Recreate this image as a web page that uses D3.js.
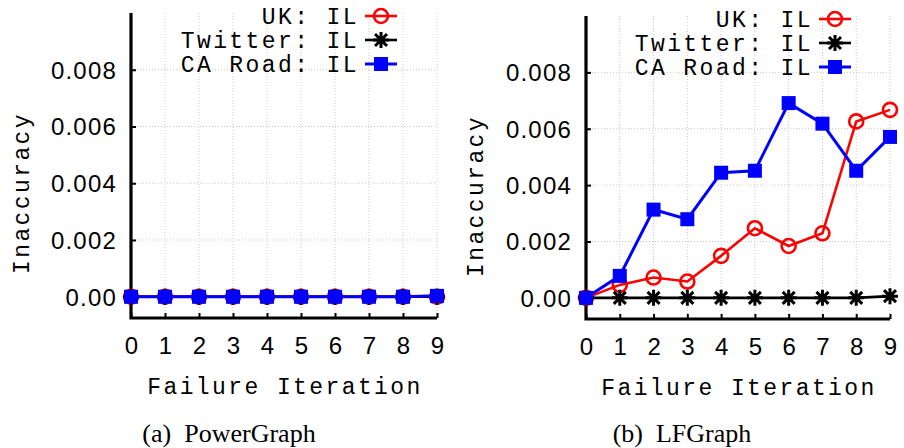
<!DOCTYPE html>
<html>
<head>
<meta charset="utf-8">
<script src="https://cdn.jsdelivr.net/npm/d3@7"></script>
<style>
  html, body { margin: 0; padding: 0; background: #fff; }
  svg { display: block; }
</style>
</head>
<body>
<svg id="chart" width="904" height="448"></svg>
<script>
// Failure iterations on the x axis
const iterations = [0, 1, 2, 3, 4, 5, 6, 7, 8, 9];

// Inaccuracy per iteration, PowerGraph
const pgUK      = [0, 0, 0, 0, 0, 0, 0, 0, 0, 0];
const pgTwitter = [0, 0, 0, 0, 0, 0, 0, 0, 0, 0];
const pgCARoad  = [0, 0, 0, 0, 0, 0, 0, 0, 0, 0.00003];

// Inaccuracy per iteration, LFGraph
const lfUK      = [0, 0.00046, 0.00072, 0.00058, 0.00149, 0.00247, 0.00184, 0.00229, 0.00626, 0.00667];
const lfTwitter = [0, 0, 0, 0, 0, 0, 0, 0, 0, 0.00006];
const lfCARoad  = [0, 0.00078, 0.00313, 0.00279, 0.00444, 0.00451, 0.00691, 0.00618, 0.00451, 0.00571];

// Axis ticks
const yTicks = [0, 0.002, 0.004, 0.006, 0.008];
const yTickLabels = ["0.00", "0.002", "0.004", "0.006", "0.008"];
const seriesNames = ["UK: IL", "Twitter: IL", "CA Road: IL"];
const captions = ["(a)\u00a0\u00a0PowerGraph", "(b)\u00a0\u00a0LFGraph"];

const MONO = "Liberation Mono, Courier New, monospace";
const SANS = "Liberation Sans, Arial, sans-serif";
const SERIF = "Liberation Serif, Times New Roman, serif";

const svg = d3.select("#chart");

const styles = [
  { color: "#ff0000", marker: "circle", width: 2.6 },
  { color: "#000000", marker: "star",   width: 2.6 },
  { color: "#0000ff", marker: "square", width: 3 }
];

function drawMarker(g, type, color, x, y) {
  if (type === "circle") {
    g.append("circle").attr("cx", x).attr("cy", y).attr("r", 7)
      .attr("fill", "none").attr("stroke", color).attr("stroke-width", 2.6);
  } else if (type === "square") {
    g.append("rect").attr("x", x - 7).attr("y", y - 7).attr("width", 14).attr("height", 14)
      .attr("fill", color);
  } else {
    const s = 8, d = 6;
    const p = `M${x - s},${y}L${x + s},${y}M${x},${y - s}L${x},${y + s}` +
              `M${x - d},${y - d}L${x + d},${y + d}M${x - d},${y + d}L${x + d},${y - d}`;
    g.append("path").attr("d", p).attr("stroke", color).attr("stroke-width", 3).attr("fill", "none");
  }
}

function monoText(sel) {
  return sel.attr("font-family", MONO).attr("font-size", 23).attr("letter-spacing", 2.4);
}

function panel(cfg) {
  const g = svg.append("g");
  const x = d3.scaleLinear().domain([0, 9]).range([cfg.left, cfg.right]);
  const y = d3.scaleLinear().domain([-0.00075, 0.01]).range([cfg.bottom, cfg.top]);

  // dotted grid
  const grid = g.append("g").attr("stroke", "#c8c8c8").attr("stroke-width", 1)
    .attr("stroke-dasharray", "1,2");
  iterations.slice(1).forEach(v => {
    grid.append("line").attr("x1", x(v)).attr("x2", x(v))
      .attr("y1", cfg.top).attr("y2", cfg.bottom);
  });
  yTicks.slice(1).forEach(v => {
    grid.append("line").attr("x1", cfg.left).attr("x2", cfg.right)
      .attr("y1", y(v)).attr("y2", y(v));
  });

  // axes
  const yAxis = d3.axisLeft(y).tickValues(yTicks).tickSizeInner(-5).tickSizeOuter(0)
    .tickPadding(14).tickFormat((d, i) => yTickLabels[i]);
  const ya = g.append("g").attr("transform", `translate(${cfg.left},0)`).call(yAxis);
  ya.select(".domain").remove();
  ya.selectAll(".tick line").attr("stroke", "#000").attr("stroke-width", 2);
  ya.selectAll(".tick text").attr("font-family", SANS)
    .attr("font-size", 24).attr("letter-spacing", 1.2).attr("fill", "#000").attr("dy", "0.35em");

  const xAxis = d3.axisBottom(x).tickValues(iterations).tickSizeInner(-5).tickSizeOuter(0)
    .tickPadding(14).tickFormat(d3.format("d"));
  const xa = g.append("g").attr("transform", `translate(0,${cfg.bottom})`).call(xAxis);
  xa.select(".domain").remove();
  xa.selectAll(".tick line").attr("stroke", "#000").attr("stroke-width", 2);
  xa.selectAll(".tick text").attr("font-family", SANS)
    .attr("font-size", 24).attr("fill", "#000").attr("dy", "0.9em");

  g.append("path")
    .attr("d", `M${cfg.left},${cfg.top}L${cfg.left},${cfg.bottom}L${cfg.right},${cfg.bottom}`)
    .attr("fill", "none").attr("stroke", "#000").attr("stroke-width", 3.2)
    .attr("stroke-linejoin", "miter");

  // axis titles
  monoText(g.append("text").attr("x", (cfg.left + cfg.right) / 2 + 1).attr("y", cfg.bottom + 76)
    .attr("text-anchor", "middle")).text("Failure Iteration");
  monoText(g.append("text")
    .attr("transform", `translate(${cfg.ylabelX},${cfg.ylabelY}) rotate(-90)`)
    .attr("text-anchor", "middle")).text("Inaccuracy");

  // series
  const line = d3.line().x((d, i) => x(iterations[i])).y(d => y(d));
  cfg.series.forEach((vals, k) => {
    const st = styles[k];
    const sg = g.append("g");
    sg.append("path").attr("d", line(vals)).attr("fill", "none")
      .attr("stroke", st.color).attr("stroke-width", st.width).attr("stroke-linejoin", "miter");
    vals.forEach((v, i) => drawMarker(sg, st.marker, st.color, x(iterations[i]), y(v)));
  });

  // legend
  seriesNames.forEach((name, k) => {
    const st = styles[k];
    const ly = cfg.top + 3 + k * 24;
    monoText(g.append("text").attr("x", cfg.legendX + 2).attr("y", ly).attr("dy", "0.35em")
      .attr("text-anchor", "end")).text(name);
    g.append("line").attr("x1", cfg.legendX + 8).attr("x2", cfg.legendX + 40)
      .attr("y1", ly).attr("y2", ly).attr("stroke", st.color).attr("stroke-width", st.width);
    drawMarker(g, st.marker, st.color, cfg.legendX + 24, ly);
  });

  // caption
  g.append("text").attr("x", cfg.captionX).attr("y", 442).attr("text-anchor", "middle")
    .attr("font-family", SERIF).attr("font-size", 26).text(cfg.caption);
}

panel({ left: 131, right: 437, top: 13, bottom: 318, ylabelX: 29, ylabelY: 193, legendX: 357,
        captionX: 229, caption: captions[0], series: [pgUK, pgTwitter, pgCARoad] });
panel({ left: 586, right: 890, top: 16, bottom: 319, ylabelX: 483, ylabelY: 196, legendX: 811,
        captionX: 682, caption: captions[1], series: [lfUK, lfTwitter, lfCARoad] });
</script>
</body>
</html>
